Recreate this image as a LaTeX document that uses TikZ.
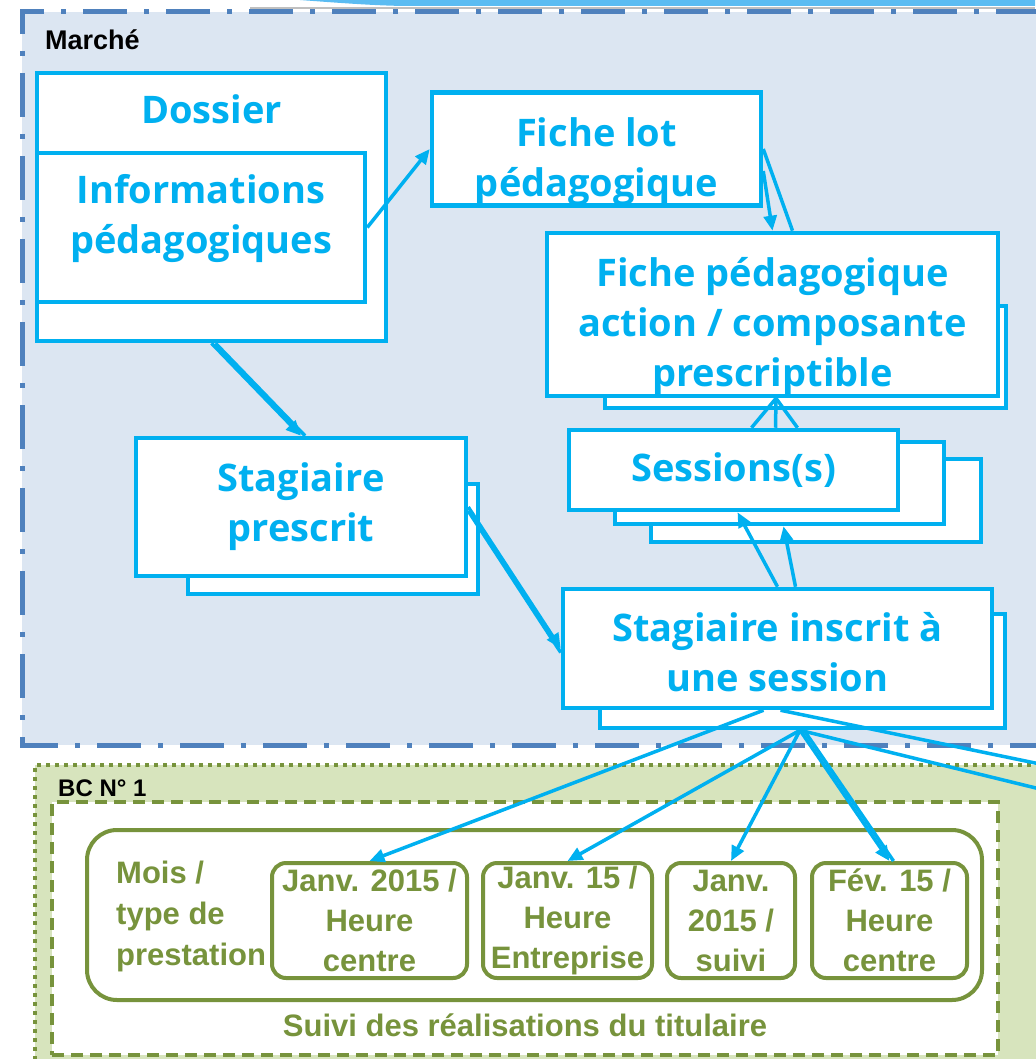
\documentclass[tikz,border=0pt]{standalone}
\usepackage{fontspec}
\usepackage{tikz}
\usetikzlibrary{arrows.meta}
\newfontfamily\cyanfont{Open Sans}
\newfontfamily\arialfont{Liberation Sans}
\definecolor{cyanline}{HTML}{00B0F0}
\definecolor{olive}{HTML}{77933C}
\definecolor{marchefill}{HTML}{DCE6F2}
\definecolor{marcheline}{HTML}{4F81BD}
\definecolor{bcfill}{HTML}{D7E4BD}
\definecolor{swoosh}{HTML}{5BBCF2}

\begin{document}
\begin{tikzpicture}[x=1pt, y=-1pt,
  entity/.style={draw=cyanline, line width=4.5pt, fill=white, inner sep=0pt, align=center, text=cyanline, font=\cyanfont\bfseries\fontsize{38}{50}\selectfont},
  title/.style={inner sep=0pt, text=cyanline, font=\cyanfont\bfseries\fontsize{38}{50}\selectfont},
  month/.style={draw=olive, line width=4pt, fill=white, rounded corners=14pt, inner sep=0pt, minimum height=115pt, align=center, text=olive, font=\arialfont\bfseries\fontsize{31}{40}\selectfont},
  oltext/.style={inner sep=0pt, text=olive, font=\arialfont\bfseries\fontsize{31}{41}\selectfont},
  link/.style={draw=cyanline, line width=3.5pt},
  arr/.style={link, -{Triangle[length=15pt, width=13pt]}}]
\useasboundingbox (0,0) rectangle (1035,1059);
\fill[white] (0,0) rectangle (1035,1059);

\fill[swoosh] (300,0) .. controls (340,3) and (380,6) .. (410,6) -- (1035,6) -- (1035,0) -- cycle;
\draw[gray!50, line width=2pt] (250,8) -- (1035,8);
\fill[marchefill] (22,12) rectangle (1040,745);
\draw[marcheline, line width=5pt, dash pattern=on 44pt off 17pt on 5pt off 17pt] (1040,12) -- (22,12) -- (22,745) -- (1040,745);
\node[anchor=west, inner sep=0pt, font=\arialfont\bfseries\fontsize{27}{30}\selectfont] (marche) at (45,40) {Marché};

\fill[bcfill] (35,765) rectangle (1040,1065);
\draw[olive, line width=4pt, dash pattern=on 4pt off 5pt] (1040,765) -- (35,765) -- (35,1065);
\node[anchor=west, inner sep=0pt, font=\arialfont\bfseries\fontsize{24}{28}\selectfont] (bc) at (58,788) {BC N° 1};

\node[entity, minimum width=349pt, minimum height=268pt, label={[title, anchor=north, yshift=-24pt]north:Dossier}] (dossier) at (211.5,207) {};
\node[entity, minimum width=328pt, minimum height=149pt] (info) at (201,227.5) {Informations\\pédagogiques\rule[-28pt]{0pt}{0pt}};
\node[entity, minimum width=329pt, minimum height=108pt] (lot) at (596.5,149) {\rule{0pt}{54pt}Fiche lot\\pédagogique};
\node[entity, minimum width=401pt, minimum height=102pt] (fpa2) at (805.5,357) {};
\node[entity, minimum width=451pt, minimum height=155pt] (fpa) at (772.5,314.5) {\rule{0pt}{54pt}Fiche pédagogique\\action / composante\\prescriptible};
\node[entity, minimum width=330pt, minimum height=83pt] (ses3) at (816,500.5) {};
\node[entity, minimum width=329pt, minimum height=82pt] (ses2) at (779.5,483) {};
\node[entity, minimum width=329pt, minimum height=80pt] (ses) at (733.5,470) {Sessions(s)};
\node[entity, minimum width=290pt, minimum height=110pt] (stp2) at (333,539) {};
\node[entity, minimum width=330pt, minimum height=138pt] (stp) at (301,507) {Stagiaire\\prescrit};
\node[entity, minimum width=405pt, minimum height=114pt] (sti2) at (802.5,671) {};
\node[entity, minimum width=429pt, minimum height=119pt] (sti) at (777.5,648.5) {\rule{0pt}{36pt}Stagiaire inscrit à\\une session};

\node[draw=olive, line width=4pt, dash pattern=on 12pt off 7pt, fill=white, inner sep=0pt, minimum width=946pt, minimum height=253pt] (suivi) at (525,928.5) {};
\node[draw=olive, line width=4pt, rounded corners=30pt, fill=white, minimum width=895pt, minimum height=170pt] (mois) at (534.5,915) {};
\node[oltext, anchor=west, align=left] (moislbl) at (116,916) {Mois /\\type de\\prestation};
\node[oltext] (suivilbl) at (525,1025) {Suivi des réalisations du titulaire};
\node[month, minimum width=195pt] (m1) at (369.5,920.5) {Janv. 2015 /\\Heure\\centre};
\node[month, minimum width=169pt] (m2) at (567.5,920.5) {Janv. 15 /\\Heure\\Entreprise};
\node[month, minimum width=128pt] (m3) at (731,920.5) {Janv.\\2015 /\\suivi};
\node[month, minimum width=155pt] (m4) at (889.5,920.5) {Fév. 15 /\\Heure\\centre};

\draw[arr] (info.east) -- (lot.west);
\draw[arr] (dossier.south) -- (stp.north);
\draw[link] ([xshift=4pt]dossier.south) -- ([xshift=4pt]stp.north);
\draw[link] (lot.east) -- ([xshift=20pt]fpa.north);
\draw[arr] ([yshift=-22pt]lot.east) -- (fpa.north);
\draw[link] ([xshift=3.5pt]fpa.south) -- ([xshift=18pt]ses.north);
\draw[link] ([xshift=3.5pt]fpa.south) -- ([xshift=42pt]ses.north);
\draw[link] ([xshift=3.5pt]fpa.south) -- ([xshift=64pt]ses.north);
\draw[arr] (sti.north) -- ([xshift=4pt]ses.south);
\draw[arr] ([xshift=18pt]sti.north) -- ([xshift=4pt]ses2.south);
\draw[arr] (stp.east) -- (sti.west);
\draw[link] ([yshift=-4pt]stp.east) -- ([yshift=-4pt]sti.west);
\coordinate (hub) at ([xshift=-2.5pt]sti2.south);
\coordinate (outA) at (1040,764);
\coordinate (outB) at (1040,789);
\draw[arr] ([xshift=-14pt]sti.south) -- (m1.north);
\draw[link] ([xshift=3pt]sti.south) -- (outA);
\draw[arr] (hub) -- (m2.north);
\draw[arr] (hub) -- (m3.north);
\draw[arr] (hub) -- (m4.north);
\draw[link] ([xshift=4pt]hub) -- ([xshift=4pt]m4.north);
\draw[link] (hub) -- (outB);
\end{tikzpicture}
\end{document}
